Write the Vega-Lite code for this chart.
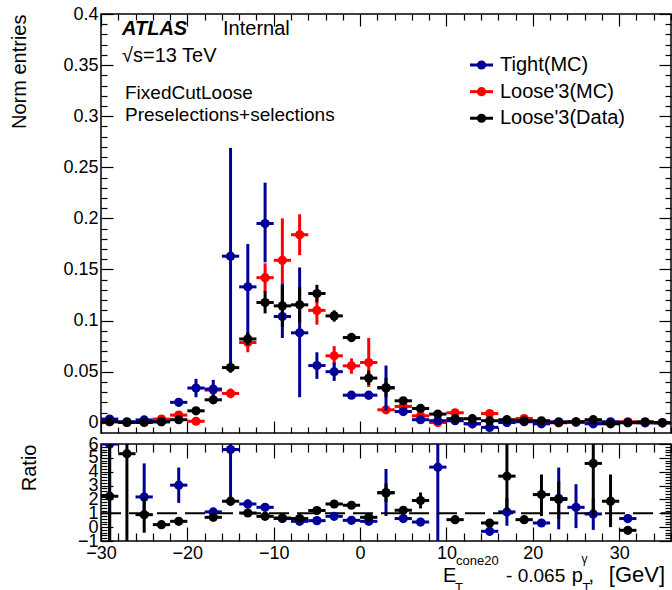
{
  "$schema": "https://vega.github.io/schema/vega-lite/v6.json",
  "padding": {"left": 9, "top": 4, "right": 0, "bottom": 0},
  "spacing": 11,
  "bounds": "flush",
  "config": {
    "font": "Liberation Sans",
    "view": {"stroke": "#000", "strokeWidth": 1.5},
    "axis": {"grid": false, "domain": false, "tickColor": "#000", "tickWidth": 1.2, "labelColor": "#000", "labelFontSize": 18, "labelFont": "Liberation Sans", "titleFont": "Liberation Sans", "titleFontSize": 20, "titleFontWeight": "normal", "titleColor": "#000", "labelPadding": 3, "labelOverlap": false, "labelFlush": false},
    "text": {"font": "Liberation Sans", "color": "#000"}
  },
  "datasets": {
    "top": [
      {"s":"T","x":-29,"x0":-30,"x1":-28,"v":0.0036,"lo":0.0006,"hi":0.0066},
      {"s":"T","x":-27,"x0":-28,"x1":-26,"v":0.001,"lo":0.0,"hi":0.002},
      {"s":"T","x":-25,"x0":-26,"x1":-24,"v":0.0028,"lo":0.0008,"hi":0.0048},
      {"s":"T","x":-23,"x0":-24,"x1":-22,"v":0.001,"lo":0.0,"hi":0.002},
      {"s":"T","x":-21,"x0":-22,"x1":-20,"v":0.020,"lo":0.016,"hi":0.024},
      {"s":"T","x":-19,"x0":-20,"x1":-18,"v":0.034,"lo":0.025,"hi":0.043},
      {"s":"T","x":-17,"x0":-18,"x1":-16,"v":0.033,"lo":0.024,"hi":0.042},
      {"s":"T","x":-15,"x0":-16,"x1":-14,"v":0.163,"lo":0.055,"hi":0.269},
      {"s":"T","x":-13,"x0":-14,"x1":-12,"v":0.133,"lo":0.083,"hi":0.175},
      {"s":"T","x":-11,"x0":-12,"x1":-10,"v":0.195,"lo":0.157,"hi":0.235},
      {"s":"T","x":-9,"x0":-10,"x1":-8,"v":0.104,"lo":0.083,"hi":0.136},
      {"s":"T","x":-7,"x0":-8,"x1":-6,"v":0.088,"lo":0.025,"hi":0.152},
      {"s":"T","x":-5,"x0":-6,"x1":-4,"v":0.056,"lo":0.043,"hi":0.069},
      {"s":"T","x":-3,"x0":-4,"x1":-2,"v":0.050,"lo":0.041,"hi":0.059},
      {"s":"T","x":-1,"x0":-2,"x1":0,"v":0.027,"lo":0.024,"hi":0.030},
      {"s":"T","x":1,"x0":0,"x1":2,"v":0.027,"lo":0.023,"hi":0.031},
      {"s":"T","x":3,"x0":2,"x1":4,"v":0.034,"lo":0.012,"hi":0.056},
      {"s":"T","x":5,"x0":4,"x1":6,"v":0.011,"lo":0.008,"hi":0.014},
      {"s":"T","x":7,"x0":6,"x1":8,"v":0.003,"lo":0.001,"hi":0.005},
      {"s":"T","x":9,"x0":8,"x1":10,"v":0.002,"lo":0.0,"hi":0.004},
      {"s":"T","x":11,"x0":10,"x1":12,"v":0.002,"lo":0.001,"hi":0.003},
      {"s":"T","x":13,"x0":12,"x1":14,"v":-0.001,"lo":-0.002,"hi":0.0},
      {"s":"T","x":15,"x0":14,"x1":16,"v":-0.0045,"lo":-0.006,"hi":-0.003},
      {"s":"T","x":17,"x0":16,"x1":18,"v":0.0003,"lo":-0.001,"hi":0.0016},
      {"s":"T","x":19,"x0":18,"x1":20,"v":0.001,"lo":0.0,"hi":0.002},
      {"s":"T","x":21,"x0":20,"x1":22,"v":-0.001,"lo":-0.002,"hi":0.0},
      {"s":"T","x":23,"x0":22,"x1":24,"v":0.001,"lo":0.0,"hi":0.002},
      {"s":"T","x":25,"x0":24,"x1":26,"v":0.0005,"lo":-0.0005,"hi":0.0015},
      {"s":"T","x":27,"x0":26,"x1":28,"v":-0.001,"lo":-0.002,"hi":0.0},
      {"s":"T","x":29,"x0":28,"x1":30,"v":0.001,"lo":0.0,"hi":0.002},
      {"s":"T","x":31,"x0":30,"x1":32,"v":0.0003,"lo":-0.0007,"hi":0.0013},
      {"s":"T","x":33,"x0":32,"x1":34,"v":0.0,"lo":-0.001,"hi":0.001},
      {"s":"T","x":35,"x0":34,"x1":36,"v":0.0,"lo":-0.001,"hi":0.001},
      {"s":"L","x":-29,"x0":-30,"x1":-28,"v":0.001,"lo":0.0,"hi":0.002},
      {"s":"L","x":-27,"x0":-28,"x1":-26,"v":0.0005,"lo":-0.0005,"hi":0.0015},
      {"s":"L","x":-25,"x0":-26,"x1":-24,"v":0.001,"lo":0.0,"hi":0.002},
      {"s":"L","x":-23,"x0":-24,"x1":-22,"v":0.0036,"lo":0.002,"hi":0.0052},
      {"s":"L","x":-21,"x0":-22,"x1":-20,"v":0.0075,"lo":0.005,"hi":0.010},
      {"s":"L","x":-19,"x0":-20,"x1":-18,"v":0.0015,"lo":0.0005,"hi":0.0025},
      {"s":"L","x":-17,"x0":-18,"x1":-16,"v":0.032,"lo":0.027,"hi":0.037},
      {"s":"L","x":-15,"x0":-16,"x1":-14,"v":0.0287,"lo":0.024,"hi":0.0334},
      {"s":"L","x":-13,"x0":-14,"x1":-12,"v":0.0785,"lo":0.069,"hi":0.088},
      {"s":"L","x":-11,"x0":-12,"x1":-10,"v":0.142,"lo":0.128,"hi":0.156},
      {"s":"L","x":-9,"x0":-10,"x1":-8,"v":0.159,"lo":0.118,"hi":0.200},
      {"s":"L","x":-7,"x0":-8,"x1":-6,"v":0.184,"lo":0.164,"hi":0.204},
      {"s":"L","x":-5,"x0":-6,"x1":-4,"v":0.110,"lo":0.096,"hi":0.123},
      {"s":"L","x":-3,"x0":-4,"x1":-2,"v":0.0655,"lo":0.056,"hi":0.075},
      {"s":"L","x":-1,"x0":-2,"x1":0,"v":0.0557,"lo":0.048,"hi":0.063},
      {"s":"L","x":1,"x0":0,"x1":2,"v":0.059,"lo":0.035,"hi":0.083},
      {"s":"L","x":3,"x0":2,"x1":4,"v":0.0127,"lo":0.009,"hi":0.0165},
      {"s":"L","x":5,"x0":4,"x1":6,"v":0.016,"lo":0.013,"hi":0.019},
      {"s":"L","x":7,"x0":6,"x1":8,"v":0.0068,"lo":0.004,"hi":0.0096},
      {"s":"L","x":9,"x0":8,"x1":10,"v":0.0003,"lo":-0.002,"hi":0.0026},
      {"s":"L","x":11,"x0":10,"x1":12,"v":0.0098,"lo":0.007,"hi":0.0126},
      {"s":"L","x":13,"x0":12,"x1":14,"v":-0.001,"lo":-0.003,"hi":0.001},
      {"s":"L","x":15,"x0":14,"x1":16,"v":0.009,"lo":0.007,"hi":0.011},
      {"s":"L","x":17,"x0":16,"x1":18,"v":0.001,"lo":0.0,"hi":0.002},
      {"s":"L","x":19,"x0":18,"x1":20,"v":0.0042,"lo":0.003,"hi":0.0054},
      {"s":"L","x":21,"x0":20,"x1":22,"v":0.001,"lo":0.0,"hi":0.002},
      {"s":"L","x":23,"x0":22,"x1":24,"v":0.0,"lo":-0.001,"hi":0.001},
      {"s":"L","x":25,"x0":24,"x1":26,"v":0.001,"lo":0.0,"hi":0.002},
      {"s":"L","x":27,"x0":26,"x1":28,"v":0.001,"lo":0.0,"hi":0.002},
      {"s":"L","x":29,"x0":28,"x1":30,"v":0.0,"lo":-0.001,"hi":0.001},
      {"s":"L","x":31,"x0":30,"x1":32,"v":0.001,"lo":0.0,"hi":0.002},
      {"s":"L","x":33,"x0":32,"x1":34,"v":0.0,"lo":-0.001,"hi":0.001},
      {"s":"L","x":35,"x0":34,"x1":36,"v":0.0,"lo":-0.001,"hi":0.001},
      {"s":"D","x":-29,"x0":-30,"x1":-28,"v":0.001,"lo":0.0,"hi":0.002},
      {"s":"D","x":-27,"x0":-28,"x1":-26,"v":0.0003,"lo":-0.0007,"hi":0.0013},
      {"s":"D","x":-25,"x0":-26,"x1":-24,"v":0.0003,"lo":-0.0007,"hi":0.0013},
      {"s":"D","x":-23,"x0":-24,"x1":-22,"v":0.001,"lo":0.0,"hi":0.002},
      {"s":"D","x":-21,"x0":-22,"x1":-20,"v":0.003,"lo":0.002,"hi":0.004},
      {"s":"D","x":-19,"x0":-20,"x1":-18,"v":0.0117,"lo":0.009,"hi":0.0145},
      {"s":"D","x":-17,"x0":-18,"x1":-16,"v":0.0225,"lo":0.019,"hi":0.026},
      {"s":"D","x":-15,"x0":-16,"x1":-14,"v":0.054,"lo":0.049,"hi":0.059},
      {"s":"D","x":-13,"x0":-14,"x1":-12,"v":0.082,"lo":0.076,"hi":0.088},
      {"s":"D","x":-11,"x0":-12,"x1":-10,"v":0.1177,"lo":0.107,"hi":0.129},
      {"s":"D","x":-9,"x0":-10,"x1":-8,"v":0.1144,"lo":0.094,"hi":0.134},
      {"s":"D","x":-7,"x0":-8,"x1":-6,"v":0.1154,"lo":0.098,"hi":0.133},
      {"s":"D","x":-5,"x0":-6,"x1":-4,"v":0.1265,"lo":0.118,"hi":0.135},
      {"s":"D","x":-3,"x0":-4,"x1":-2,"v":0.1046,"lo":0.099,"hi":0.110},
      {"s":"D","x":-1,"x0":-2,"x1":0,"v":0.0834,"lo":0.079,"hi":0.088},
      {"s":"D","x":1,"x0":0,"x1":2,"v":0.0437,"lo":0.037,"hi":0.051},
      {"s":"D","x":3,"x0":2,"x1":4,"v":0.0345,"lo":0.025,"hi":0.044},
      {"s":"D","x":5,"x0":4,"x1":6,"v":0.0215,"lo":0.018,"hi":0.025},
      {"s":"D","x":7,"x0":6,"x1":8,"v":0.014,"lo":0.011,"hi":0.017},
      {"s":"D","x":9,"x0":8,"x1":10,"v":0.0085,"lo":0.006,"hi":0.011},
      {"s":"D","x":11,"x0":10,"x1":12,"v":0.004,"lo":0.002,"hi":0.006},
      {"s":"D","x":13,"x0":12,"x1":14,"v":0.004,"lo":0.002,"hi":0.006},
      {"s":"D","x":15,"x0":14,"x1":16,"v":0.002,"lo":0.0005,"hi":0.0035},
      {"s":"D","x":17,"x0":16,"x1":18,"v":0.003,"lo":0.0015,"hi":0.0045},
      {"s":"D","x":19,"x0":18,"x1":20,"v":0.002,"lo":0.001,"hi":0.003},
      {"s":"D","x":21,"x0":20,"x1":22,"v":0.002,"lo":0.001,"hi":0.003},
      {"s":"D","x":23,"x0":22,"x1":24,"v":0.0003,"lo":-0.0007,"hi":0.0013},
      {"s":"D","x":25,"x0":24,"x1":26,"v":0.001,"lo":0.0,"hi":0.002},
      {"s":"D","x":27,"x0":26,"x1":28,"v":0.003,"lo":0.0015,"hi":0.0045},
      {"s":"D","x":29,"x0":28,"x1":30,"v":-0.001,"lo":-0.002,"hi":0.0},
      {"s":"D","x":31,"x0":30,"x1":32,"v":0.0,"lo":-0.001,"hi":0.001},
      {"s":"D","x":33,"x0":32,"x1":34,"v":0.001,"lo":0.0,"hi":0.002},
      {"s":"D","x":35,"x0":34,"x1":36,"v":0.0,"lo":-0.001,"hi":0.001}
    ],
    "ratio": [
      {"s":"T","x":-29,"x0":-30,"x1":-28,"r":6.0,"lo":-1.5,"hi":13},
      {"s":"T","x":-25,"x0":-26,"x1":-24,"r":2.18,"lo":0.8,"hi":4.6},
      {"s":"T","x":-21,"x0":-22,"x1":-20,"r":3.03,"lo":1.75,"hi":4.3},
      {"s":"T","x":-17,"x0":-18,"x1":-16,"r":1.1,"lo":0.95,"hi":1.25},
      {"s":"T","x":-15,"x0":-16,"x1":-14,"r":5.6,"lo":1.87,"hi":9.3},
      {"s":"T","x":-13,"x0":-14,"x1":-12,"r":1.67,"lo":1.35,"hi":2.0},
      {"s":"T","x":-11,"x0":-12,"x1":-10,"r":1.43,"lo":1.25,"hi":1.6},
      {"s":"T","x":-9,"x0":-10,"x1":-8,"r":0.62,"lo":0.5,"hi":0.74},
      {"s":"T","x":-7,"x0":-8,"x1":-6,"r":0.42,"lo":0.3,"hi":0.54},
      {"s":"T","x":-5,"x0":-6,"x1":-4,"r":0.47,"lo":0.35,"hi":0.6},
      {"s":"T","x":-3,"x0":-4,"x1":-2,"r":0.78,"lo":0.65,"hi":0.9},
      {"s":"T","x":-1,"x0":-2,"x1":0,"r":0.49,"lo":0.4,"hi":0.58},
      {"s":"T","x":1,"x0":0,"x1":2,"r":0.42,"lo":0.3,"hi":0.55},
      {"s":"T","x":3,"x0":2,"x1":4,"r":2.5,"lo":0.8,"hi":4.2},
      {"s":"T","x":5,"x0":4,"x1":6,"r":0.62,"lo":0.5,"hi":0.75},
      {"s":"T","x":7,"x0":6,"x1":8,"r":0.37,"lo":0.25,"hi":0.5},
      {"s":"T","x":9,"x0":8,"x1":10,"r":4.33,"lo":-2,"hi":11},
      {"s":"T","x":15,"x0":14,"x1":16,"r":-0.3,"lo":-0.6,"hi":0.0},
      {"s":"T","x":17,"x0":16,"x1":18,"r":1.1,"lo":0.1,"hi":2.1},
      {"s":"T","x":21,"x0":20,"x1":22,"r":0.3,"lo":0.15,"hi":0.45},
      {"s":"T","x":23,"x0":22,"x1":24,"r":2.07,"lo":-0.16,"hi":4.3},
      {"s":"T","x":25,"x0":24,"x1":26,"r":1.43,"lo":-0.07,"hi":3.1},
      {"s":"T","x":27,"x0":26,"x1":28,"r":0.95,"lo":-0.2,"hi":2.1},
      {"s":"T","x":31,"x0":30,"x1":32,"r":0.62,"lo":0.3,"hi":0.95},
      {"s":"D","x":-29,"x0":-30,"x1":-28,"r":2.23,"lo":-2,"hi":6.5},
      {"s":"D","x":-27,"x0":-28,"x1":-26,"r":5.3,"lo":-1.5,"hi":12},
      {"s":"D","x":-25,"x0":-26,"x1":-24,"r":0.9,"lo":-0.4,"hi":2.1},
      {"s":"D","x":-23,"x0":-24,"x1":-22,"r":0.18,"lo":0.0,"hi":0.36},
      {"s":"D","x":-21,"x0":-22,"x1":-20,"r":0.42,"lo":0.3,"hi":0.55},
      {"s":"D","x":-17,"x0":-18,"x1":-16,"r":0.71,"lo":0.55,"hi":0.87},
      {"s":"D","x":-15,"x0":-16,"x1":-14,"r":1.87,"lo":1.55,"hi":2.2},
      {"s":"D","x":-13,"x0":-14,"x1":-12,"r":1.02,"lo":0.9,"hi":1.14},
      {"s":"D","x":-11,"x0":-12,"x1":-10,"r":0.78,"lo":0.68,"hi":0.88},
      {"s":"D","x":-9,"x0":-10,"x1":-8,"r":0.66,"lo":0.55,"hi":0.77},
      {"s":"D","x":-7,"x0":-8,"x1":-6,"r":0.62,"lo":0.52,"hi":0.72},
      {"s":"D","x":-5,"x0":-6,"x1":-4,"r":1.2,"lo":1.1,"hi":1.3},
      {"s":"D","x":-3,"x0":-4,"x1":-2,"r":1.67,"lo":1.55,"hi":1.8},
      {"s":"D","x":-1,"x0":-2,"x1":0,"r":1.58,"lo":1.45,"hi":1.7},
      {"s":"D","x":1,"x0":0,"x1":2,"r":0.71,"lo":0.6,"hi":0.82},
      {"s":"D","x":3,"x0":2,"x1":4,"r":2.47,"lo":1.8,"hi":3.15},
      {"s":"D","x":5,"x0":4,"x1":6,"r":1.22,"lo":1.0,"hi":1.45},
      {"s":"D","x":7,"x0":6,"x1":8,"r":1.92,"lo":1.35,"hi":2.5},
      {"s":"D","x":11,"x0":10,"x1":12,"r":0.54,"lo":0.4,"hi":0.68},
      {"s":"D","x":15,"x0":14,"x1":16,"r":0.3,"lo":0.05,"hi":0.55},
      {"s":"D","x":17,"x0":16,"x1":18,"r":3.68,"lo":1.15,"hi":6.2},
      {"s":"D","x":19,"x0":18,"x1":20,"r":0.54,"lo":0.35,"hi":0.73},
      {"s":"D","x":21,"x0":20,"x1":22,"r":2.35,"lo":0.8,"hi":3.8},
      {"s":"D","x":23,"x0":22,"x1":24,"r":2.0,"lo":0.6,"hi":3.3},
      {"s":"D","x":27,"x0":26,"x1":28,"r":4.6,"lo":0.8,"hi":8.4},
      {"s":"D","x":29,"x0":28,"x1":30,"r":1.87,"lo":0.0,"hi":3.8},
      {"s":"D","x":31,"x0":30,"x1":32,"r":-0.23,"lo":-0.45,"hi":0.0}
    ]
  },
  "vconcat": [
    {
      "width": 570,
      "height": 419,
      "data": {"name": "top"},
      "resolve": {"axis": {"x": "independent", "y": "independent"}},
      "layer": [
        {"transform": [{"filter": "datum.s=='L'"}], "mark": {"type": "rule", "color": "#ff0000", "strokeWidth": 3},
         "encoding": {
           "x": {"field": "x", "type": "quantitative", "scale": {"domain": [-30, 36], "nice": false, "zero": false},
                 "axis": {"orient": "bottom", "values": [-30,-28,-26,-24,-22,-20,-18,-16,-14,-12,-10,-8,-6,-4,-2,0,2,4,6,8,10,12,14,16,18,20,22,24,26,28,30,32,34,36], "labels": false, "title": null, "tickSize": {"condition": {"test": "datum.value % 10 == 0", "value": -12}, "value": -6}}},
           "y": {"field": "lo", "type": "quantitative", "scale": {"domain": [-0.01, 0.4], "nice": false, "zero": false},
                 "axis": {"orient": "left", "values": [0,0.01,0.02,0.03,0.04,0.05,0.06,0.07,0.08,0.09,0.1,0.11,0.12,0.13,0.14,0.15,0.16,0.17,0.18,0.19,0.2,0.21,0.22,0.23,0.24,0.25,0.26,0.27,0.28,0.29,0.3,0.31,0.32,0.33,0.34,0.35,0.36,0.37,0.38,0.39,0.4], "labelExpr": "abs(datum.value*20-round(datum.value*20))<0.001 ? format(datum.value,'~g') : ''", "labelPadding": 15, "tickSize": {"condition": {"test": "abs(datum.value*20-round(datum.value*20))<0.001", "value": -12}, "value": -6}, "title": "Norm entries", "titleAnchor": "end", "titlePadding": 33}},
           "y2": {"field": "hi"}}},
        {"transform": [{"filter": "datum.s=='L'"}], "mark": {"type": "rule", "color": "#ff0000", "strokeWidth": 3},
         "encoding": {
           "x": {"field": "x0", "type": "quantitative",
                 "axis": {"orient": "top", "values": [-30,-28,-26,-24,-22,-20,-18,-16,-14,-12,-10,-8,-6,-4,-2,0,2,4,6,8,10,12,14,16,18,20,22,24,26,28,30,32,34,36], "labels": false, "title": null, "tickSize": {"condition": {"test": "datum.value % 10 == 0", "value": -12}, "value": -6}}},
           "x2": {"field": "x1"},
           "y": {"field": "v", "type": "quantitative",
                 "axis": {"orient": "right", "values": [0,0.01,0.02,0.03,0.04,0.05,0.06,0.07,0.08,0.09,0.1,0.11,0.12,0.13,0.14,0.15,0.16,0.17,0.18,0.19,0.2,0.21,0.22,0.23,0.24,0.25,0.26,0.27,0.28,0.29,0.3,0.31,0.32,0.33,0.34,0.35,0.36,0.37,0.38,0.39,0.4], "labels": false, "title": null, "tickSize": {"condition": {"test": "abs(datum.value*20-round(datum.value*20))<0.001", "value": -12}, "value": -6}}}}},
        {"transform": [{"filter": "datum.s=='L'"}], "mark": {"type": "point", "filled": true, "opacity": 1, "color": "#ff0000", "size": 85},
         "encoding": {"x": {"field": "x", "type": "quantitative", "axis": null}, "y": {"field": "v", "type": "quantitative", "axis": null}}},
        {"transform": [{"filter": "datum.s=='T'"}], "mark": {"type": "rule", "color": "#000099", "strokeWidth": 3},
         "encoding": {"x": {"field": "x", "type": "quantitative", "axis": null}, "y": {"field": "lo", "type": "quantitative", "axis": null}, "y2": {"field": "hi"}}},
        {"transform": [{"filter": "datum.s=='T'"}], "mark": {"type": "rule", "color": "#000099", "strokeWidth": 3},
         "encoding": {"x": {"field": "x0", "type": "quantitative", "axis": null}, "x2": {"field": "x1"}, "y": {"field": "v", "type": "quantitative", "axis": null}}},
        {"transform": [{"filter": "datum.s=='T'"}], "mark": {"type": "point", "filled": true, "opacity": 1, "color": "#000099", "size": 85},
         "encoding": {"x": {"field": "x", "type": "quantitative", "axis": null}, "y": {"field": "v", "type": "quantitative", "axis": null}}},
        {"transform": [{"filter": "datum.s=='D'"}], "mark": {"type": "rule", "color": "#000000", "strokeWidth": 3},
         "encoding": {"x": {"field": "x", "type": "quantitative", "axis": null}, "y": {"field": "lo", "type": "quantitative", "axis": null}, "y2": {"field": "hi"}}},
        {"transform": [{"filter": "datum.s=='D'"}], "mark": {"type": "rule", "color": "#000000", "strokeWidth": 3},
         "encoding": {"x": {"field": "x0", "type": "quantitative", "axis": null}, "x2": {"field": "x1"}, "y": {"field": "v", "type": "quantitative", "axis": null}}},
        {"transform": [{"filter": "datum.s=='D'"}], "mark": {"type": "point", "filled": true, "opacity": 1, "color": "#000000", "size": 85},
         "encoding": {"x": {"field": "x", "type": "quantitative", "axis": null}, "y": {"field": "v", "type": "quantitative", "axis": null}}},
        {"data": {"values": [{}]}, "mark": {"type": "text", "text": "ATLAS", "fontSize": 20, "fontWeight": "bold", "fontStyle": "italic", "align": "left", "baseline": "alphabetic"},
         "encoding": {"x": {"datum": -27.57, "type": "quantitative", "axis": null}, "y": {"datum": 0.3792, "type": "quantitative", "axis": null}}},
        {"data": {"values": [{}]}, "mark": {"type": "text", "text": "Internal", "fontSize": 20, "align": "left", "baseline": "alphabetic"},
         "encoding": {"x": {"datum": -15.87, "type": "quantitative", "axis": null}, "y": {"datum": 0.3792, "type": "quantitative", "axis": null}}},
        {"data": {"values": [{}]}, "mark": {"type": "text", "text": "√s=13 TeV", "fontSize": 20, "align": "left", "baseline": "alphabetic"},
         "encoding": {"x": {"datum": -27.57, "type": "quantitative", "axis": null}, "y": {"datum": 0.3533, "type": "quantitative", "axis": null}}},
        {"data": {"values": [{}]}, "mark": {"type": "text", "text": "FixedCutLoose", "fontSize": 19, "align": "left", "baseline": "alphabetic"},
         "encoding": {"x": {"datum": -27.22, "type": "quantitative", "axis": null}, "y": {"datum": 0.3165, "type": "quantitative", "axis": null}}},
        {"data": {"values": [{}]}, "mark": {"type": "text", "text": "Preselections+selections", "fontSize": 19, "align": "left", "baseline": "alphabetic"},
         "encoding": {"x": {"datum": -27.22, "type": "quantitative", "axis": null}, "y": {"datum": 0.2953, "type": "quantitative", "axis": null}}},
        {"data": {"values": [{}]}, "mark": {"type": "rule", "color": "#000099", "strokeWidth": 3},
         "encoding": {"x": {"datum": 12.73, "type": "quantitative", "axis": null}, "x2": {"datum": 15.39}, "y": {"datum": 0.3501, "type": "quantitative", "axis": null}}},
        {"data": {"values": [{}]}, "mark": {"type": "point", "filled": true, "opacity": 1, "color": "#000099", "size": 85},
         "encoding": {"x": {"datum": 14.06, "type": "quantitative", "axis": null}, "y": {"datum": 0.3501, "type": "quantitative", "axis": null}}},
        {"data": {"values": [{}]}, "mark": {"type": "text", "text": "Tight(MC)", "fontSize": 20, "align": "left", "baseline": "middle"},
         "encoding": {"x": {"datum": 16.2, "type": "quantitative", "axis": null}, "y": {"datum": 0.3501, "type": "quantitative", "axis": null}}},
        {"data": {"values": [{}]}, "mark": {"type": "rule", "color": "#ff0000", "strokeWidth": 3},
         "encoding": {"x": {"datum": 12.73, "type": "quantitative", "axis": null}, "x2": {"datum": 15.39}, "y": {"datum": 0.324, "type": "quantitative", "axis": null}}},
        {"data": {"values": [{}]}, "mark": {"type": "point", "filled": true, "opacity": 1, "color": "#ff0000", "size": 85},
         "encoding": {"x": {"datum": 14.06, "type": "quantitative", "axis": null}, "y": {"datum": 0.324, "type": "quantitative", "axis": null}}},
        {"data": {"values": [{}]}, "mark": {"type": "text", "text": "Loose'3(MC)", "fontSize": 20, "align": "left", "baseline": "middle"},
         "encoding": {"x": {"datum": 16.2, "type": "quantitative", "axis": null}, "y": {"datum": 0.324, "type": "quantitative", "axis": null}}},
        {"data": {"values": [{}]}, "mark": {"type": "rule", "color": "#000000", "strokeWidth": 3},
         "encoding": {"x": {"datum": 12.73, "type": "quantitative", "axis": null}, "x2": {"datum": 15.39}, "y": {"datum": 0.298, "type": "quantitative", "axis": null}}},
        {"data": {"values": [{}]}, "mark": {"type": "point", "filled": true, "opacity": 1, "color": "#000000", "size": 85},
         "encoding": {"x": {"datum": 14.06, "type": "quantitative", "axis": null}, "y": {"datum": 0.298, "type": "quantitative", "axis": null}}},
        {"data": {"values": [{}]}, "mark": {"type": "text", "text": "Loose'3(Data)", "fontSize": 20, "align": "left", "baseline": "middle"},
         "encoding": {"x": {"datum": 16.2, "type": "quantitative", "axis": null}, "y": {"datum": 0.298, "type": "quantitative", "axis": null}}}
      ]
    },
    {
      "width": 570,
      "height": 97,
      "data": {"name": "ratio"},
      "resolve": {"axis": {"x": "independent", "y": "independent"}},
      "layer": [
        {"transform": [{"filter": "datum.s=='T'"}], "mark": {"type": "rule", "color": "#000099", "strokeWidth": 3, "clip": true},
         "encoding": {
           "x": {"field": "x", "type": "quantitative", "scale": {"domain": [-30, 36], "nice": false, "zero": false},
                 "axis": {"orient": "bottom", "values": [-30,-28,-26,-24,-22,-20,-18,-16,-14,-12,-10,-8,-6,-4,-2,0,2,4,6,8,10,12,14,16,18,20,22,24,26,28,30,32,34,36], "labelExpr": "datum.value % 10 == 0 ? format(datum.value,'d') : ''", "labelPadding": 17, "title": null, "tickSize": {"condition": {"test": "datum.value % 10 == 0", "value": -14}, "value": -8}}},
           "y": {"field": "lo", "type": "quantitative", "scale": {"domain": [-1, 6], "nice": false, "zero": false},
                 "axis": {"orient": "left", "values": [-1,-0.8,-0.6,-0.4,-0.2,0,0.2,0.4,0.6,0.8,1,1.2,1.4,1.6,1.8,2,2.2,2.4,2.6,2.8,3,3.2,3.4,3.6,3.8,4,4.2,4.4,4.6,4.8,5,5.2,5.4,5.6,5.8,6], "labelExpr": "abs(datum.value-round(datum.value))<0.01 ? format(datum.value,'d') : ''", "labelPadding": 15, "tickSize": {"condition": {"test": "abs(datum.value-round(datum.value))<0.01", "value": -12}, "value": -6}, "title": "Ratio", "titleAnchor": "end", "titlePadding": 38}},
           "y2": {"field": "hi"}}},
        {"transform": [{"filter": "datum.s=='T'"}], "mark": {"type": "rule", "color": "#000099", "strokeWidth": 3, "clip": true},
         "encoding": {
           "x": {"field": "x0", "type": "quantitative",
                 "axis": {"orient": "top", "values": [-30,-28,-26,-24,-22,-20,-18,-16,-14,-12,-10,-8,-6,-4,-2,0,2,4,6,8,10,12,14,16,18,20,22,24,26,28,30,32,34,36], "labels": false, "title": null, "tickSize": {"condition": {"test": "datum.value % 10 == 0", "value": -14}, "value": -8}}},
           "x2": {"field": "x1"},
           "y": {"field": "r", "type": "quantitative",
                 "axis": {"orient": "right", "values": [-1,-0.8,-0.6,-0.4,-0.2,0,0.2,0.4,0.6,0.8,1,1.2,1.4,1.6,1.8,2,2.2,2.4,2.6,2.8,3,3.2,3.4,3.6,3.8,4,4.2,4.4,4.6,4.8,5,5.2,5.4,5.6,5.8,6], "labels": false, "title": null, "tickSize": {"condition": {"test": "abs(datum.value-round(datum.value))<0.01", "value": -12}, "value": -6}}}}},
        {"data": {"values": [{}]}, "mark": {"type": "rule", "color": "#000000", "strokeWidth": 2, "strokeDash": [20, 8]},
         "encoding": {"x": {"datum": -30, "type": "quantitative", "axis": null}, "x2": {"datum": 36}, "y": {"datum": 1, "type": "quantitative", "axis": null}}},
        {"transform": [{"filter": "datum.s=='T'"}], "mark": {"type": "point", "filled": true, "opacity": 1, "color": "#000099", "size": 85, "clip": true},
         "encoding": {"x": {"field": "x", "type": "quantitative", "axis": null}, "y": {"field": "r", "type": "quantitative", "axis": null}}},
        {"transform": [{"filter": "datum.s=='D'"}], "mark": {"type": "rule", "color": "#000000", "strokeWidth": 3, "clip": true},
         "encoding": {"x": {"field": "x", "type": "quantitative", "axis": null}, "y": {"field": "lo", "type": "quantitative", "axis": null}, "y2": {"field": "hi"}}},
        {"transform": [{"filter": "datum.s=='D'"}], "mark": {"type": "rule", "color": "#000000", "strokeWidth": 3, "clip": true},
         "encoding": {"x": {"field": "x0", "type": "quantitative", "axis": null}, "x2": {"field": "x1"}, "y": {"field": "r", "type": "quantitative", "axis": null}}},
        {"transform": [{"filter": "datum.s=='D'"}], "mark": {"type": "point", "filled": true, "opacity": 1, "color": "#000000", "size": 85, "clip": true},
         "encoding": {"x": {"field": "x", "type": "quantitative", "axis": null}, "y": {"field": "r", "type": "quantitative", "axis": null}}},
        {"data": {"values": [{}]}, "mark": {"type": "text", "text": "E", "fontSize": 20, "align": "left", "baseline": "alphabetic"},
         "encoding": {"x": {"datum": 9.6, "type": "quantitative", "axis": null}, "y": {"datum": -3.96, "type": "quantitative", "axis": null}}},
        {"data": {"values": [{}]}, "mark": {"type": "text", "text": "cone20", "fontSize": 13, "align": "left", "baseline": "alphabetic"},
         "encoding": {"x": {"datum": 11.11, "type": "quantitative", "axis": null}, "y": {"datum": -2.73, "type": "quantitative", "axis": null}}},
        {"data": {"values": [{}]}, "mark": {"type": "text", "text": "T", "fontSize": 13, "align": "left", "baseline": "alphabetic"},
         "encoding": {"x": {"datum": 11.0, "type": "quantitative", "axis": null}, "y": {"datum": -4.68, "type": "quantitative", "axis": null}}},
        {"data": {"values": [{}]}, "mark": {"type": "text", "text": "- 0.065", "fontSize": 19, "align": "left", "baseline": "alphabetic"},
         "encoding": {"x": {"datum": 16.9, "type": "quantitative", "axis": null}, "y": {"datum": -3.96, "type": "quantitative", "axis": null}}},
        {"data": {"values": [{}]}, "mark": {"type": "text", "text": "p", "fontSize": 20, "align": "left", "baseline": "alphabetic"},
         "encoding": {"x": {"datum": 24.5, "type": "quantitative", "axis": null}, "y": {"datum": -3.96, "type": "quantitative", "axis": null}}},
        {"data": {"values": [{}]}, "mark": {"type": "text", "text": "γ", "fontSize": 12, "align": "left", "baseline": "alphabetic"},
         "encoding": {"x": {"datum": 25.65, "type": "quantitative", "axis": null}, "y": {"datum": -2.59, "type": "quantitative", "axis": null}}},
        {"data": {"values": [{}]}, "mark": {"type": "text", "text": "T", "fontSize": 13, "align": "left", "baseline": "alphabetic"},
         "encoding": {"x": {"datum": 25.75, "type": "quantitative", "axis": null}, "y": {"datum": -4.68, "type": "quantitative", "axis": null}}},
        {"data": {"values": [{}]}, "mark": {"type": "text", "text": ",", "fontSize": 20, "align": "left", "baseline": "alphabetic"},
         "encoding": {"x": {"datum": 26.45, "type": "quantitative", "axis": null}, "y": {"datum": -3.96, "type": "quantitative", "axis": null}}},
        {"data": {"values": [{}]}, "mark": {"type": "text", "text": "[GeV]", "fontSize": 22, "align": "left", "baseline": "alphabetic"},
         "encoding": {"x": {"datum": 28.8, "type": "quantitative", "axis": null}, "y": {"datum": -3.96, "type": "quantitative", "axis": null}}}
      ]
    }
  ]
}
